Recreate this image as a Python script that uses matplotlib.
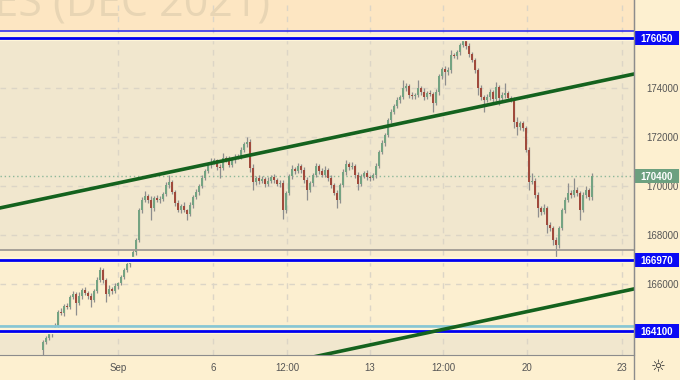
import numpy as np
import matplotlib
matplotlib.use("Agg")
import matplotlib.pyplot as plt
from matplotlib.patches import Rectangle
from matplotlib.lines import Line2D
from matplotlib.transforms import blended_transform_factory

# ---------------- data ----------------
first_open = 163300
closes = [
    163640, 163800, 163960, 164170, 164290, 164860, 164800, 165110, 165060, 165470,
    165600, 165230, 165510, 165760, 165640, 165510, 165350, 165720, 166170, 166570,
    166170, 165600, 165800, 165720, 165920, 166040, 166290, 166570, 166820, 167060,
    167310, 167800, 169020, 169430, 169590, 169430, 169100, 169510, 169430, 169470,
    169680, 170040, 170160, 169760, 169310, 169020, 169190, 169020, 168860, 169230,
    169550, 169760, 170000, 170330, 170610, 170860, 170980, 171060, 170780, 170740,
    171140, 171100, 170860, 171060, 171190, 171230, 171470, 171720, 171800, 170740,
    170160, 170330, 170210, 170290, 170080, 170210, 170370, 170250, 170080, 170120,
    169020, 169720, 170410, 170700, 170610, 170820, 170650, 170250, 169840, 170120,
    170450, 170820, 170610, 170450, 170650, 170330, 170040, 169720, 169430, 170040,
    170570, 170900, 170780, 170820, 170450, 170080, 170410, 170530, 170370, 170330,
    170450, 170820, 171390, 171760, 172080, 172690, 173020, 173270, 173510, 173630,
    174000, 174080, 173710, 173670, 173710, 174000, 173840, 173630, 173800, 173760,
    173390, 173840, 174490, 174780, 174650, 174730, 175350, 175300, 175470, 175750,
    175960, 175710, 175390, 175140, 174730, 174000, 173630, 173510, 173630, 173840,
    173550, 174040, 173590, 173710, 173800, 173590, 173510, 172610, 172410, 172570,
    172370, 171470, 170160, 170210, 169630, 169100, 168940, 169100, 168410, 168290,
    167800, 167590, 168290, 169020, 169430, 169720, 169630, 169840, 169720, 169020,
    169630, 169840, 169550, 170400,
]
wick_up = [
    60, 80, 100, 60, 120, 80, 140, 60, 120, 100,
    130, 80, 150, 90, 110, 70, 130, 90, 100, 120,
    80, 90, 140, 70, 110, 60, 90, 80, 120, 60,
    80, 70, 100, 120, 200, 90, 150, 80, 110, 140,
    90, 130, 290, 100, 80, 120, 90, 140, 60, 110,
    80, 130, 70, 120, 100, 80, 150, 90, 60, 110,
    210, 90, 120, 80, 110, 60, 130, 90, 200, 120,
    150, 80, 120, 100, 90, 140, 80, 110, 70, 130,
    120, 90, 100, 160, 80, 120, 90, 140, 110, 80,
    100, 130, 70, 120, 160, 90, 110, 80, 100, 90,
    120, 150, 80, 140, 90, 110, 100, 80, 130, 90,
    70, 100, 60, 110, 90, 80, 130, 70, 110, 90,
    330, 120, 90, 130, 80, 330, 100, 140, 90, 110,
    80, 120, 90, 80, 130, 110, 200, 90, 80, 100,
    90, 80, 120, 90, 100, 80, 110, 90, 130, 100,
    90, 200, 80, 120, 400, 90, 100, 120, 210, 100,
    90, 80, 110, 320, 100, 130, 90, 150, 80, 110,
    90, 130, 80, 100, 120, 400, 110, 490, 100, 90,
    120, 140, 90, 130,
]
wick_dn = [
    300, 70, 90, 110, 60, 100, 80, 120, 70, 90,
    100, 490, 80, 120, 90, 110, 290, 70, 100, 80,
    120, 330, 90, 110, 70, 130, 80, 100, 90, 110,
    70, 120, 90, 110, 80, 130, 490, 100, 90, 120,
    80, 100, 110, 90, 130, 80, 120, 100, 250, 90,
    110, 80, 120, 90, 100, 70, 130, 90, 110, 410,
    80, 120, 100, 90, 140, 80, 110, 90, 120, 150,
    320, 100, 140, 90, 120, 100, 80, 130, 90, 110,
    370, 120, 90, 110, 130, 80, 100, 120, 410, 90,
    110, 80, 130, 100, 90, 120, 110, 100, 330, 120,
    90, 110, 130, 80, 120, 240, 100, 90, 110, 130,
    90, 120, 100, 80, 110, 90, 130, 80, 100, 120,
    90, 110, 130, 100, 120, 80, 110, 130, 90, 100,
    370, 90, 110, 120, 530, 100, 120, 90, 130, 110,
    80, 100, 120, 90, 110, 300, 130, 490, 100, 120,
    110, 90, 280, 100, 120, 130, 90, 240, 330, 110,
    120, 100, 320, 90, 110, 360, 130, 100, 330, 120,
    200, 490, 110, 90, 130, 100, 120, 90, 110, 410,
    100, 120, 130, 110,
]

time_tick_pos = [25, 56.7, 81.3, 109, 133.3, 161.3, 193]
time_tick_labels = ["Sep", "6", "12:00", "13", "12:00", "20", "23"]
price_ticks = [166000, 168000, 170000, 172000, 174000]
blue_levels = [176050, 166970, 164100]
upper_zone_edge = 176320
grey_level = 167390
cyan_level = 164290
last_price = 170400
upper_trend_x = [-15, 198]
upper_trend_y = [169087, 174597]
lower_trend_x = [80, 198]
lower_trend_y = [162760, 165825]
title_text = "FUTURES (DEC 2021)"

# ---------------- figure ----------------
W, H = 680, 380
fig = plt.figure(figsize=(W / 100, H / 100), dpi=100)
fig.patch.set_facecolor("#fdf0d0")
plot_w, plot_h = 634, 355
ax = fig.add_axes([0, (H - plot_h) / H, plot_w / W, plot_h / H])
ax.set_facecolor("#f1e7ce")

ymin, ymax = 163102, 177592
xmin, xmax = -14.33, 197
ax.set_xlim(xmin, xmax)
ax.set_ylim(ymin, ymax)

# background bands
ax.axhspan(upper_zone_edge, ymax, color="#fde6c2", zorder=0, lw=0)
ax.axhspan(blue_levels[0], upper_zone_edge, color="#fcefd6", zorder=0, lw=0)
ax.axhspan(cyan_level, grey_level, color="#fcefd0", zorder=0, lw=0)

# grid
grid_c = "#dcd5c6"
for t in time_tick_pos:
    ax.axvline(t, color=grid_c, lw=1, ls=(0, (4, 4)), zorder=0.5)
for p in price_ticks:
    ax.axhline(p, color=grid_c, lw=1, ls=(0, (4, 4)), zorder=0.5)

# watermark (partly cut off at the top-left, as in the reference)
ax.text(270 / plot_w, 1 - 16 / plot_h, title_text, transform=ax.transAxes,
        ha="right", va="baseline", fontsize=31, color="#e8d5b4",
        family=["Open Sans", "DejaVu Sans"], clip_on=True, zorder=0.6)

# candles
c = np.array(closes, dtype=float)
o = np.concatenate([[first_open], c[:-1]])
hi = np.maximum(o, c) + np.array(wick_up)
lo = np.minimum(o, c) - np.array(wick_dn)
x = np.arange(len(c))
bull = c >= o
ax.vlines(x, lo, hi, color="#8e8e8e", lw=0.9, zorder=3)
body_h = np.maximum(np.abs(c - o), 40)
ax.bar(x[bull], body_h[bull], bottom=np.minimum(o, c)[bull], width=0.62,
       color="#74a382", zorder=4, lw=0)
ax.bar(x[~bull], body_h[~bull], bottom=np.minimum(o, c)[~bull], width=0.62,
       color="#a04a3c", zorder=4, lw=0)

# level lines
ax.axhline(upper_zone_edge, color="#2020f0", lw=1.1, zorder=5)
ax.axhline(grey_level, color="#a09a94", lw=1.3, zorder=5)
ax.axhline(cyan_level, color="#86c6d4", lw=2.0, zorder=5)
for lv in blue_levels:
    ax.axhline(lv, color="#fff6d8", lw=4.5, zorder=5)
    ax.axhline(lv, color="#0000f0", lw=2.0, zorder=6)

# last price dotted line
ax.axhline(last_price, color="#8db89a", lw=1.0, ls=(0, (1, 2)), zorder=2)

# trend lines
ax.plot(upper_trend_x, upper_trend_y, color="#14621e", lw=2.6, zorder=7,
        solid_capstyle="butt")
ax.plot(lower_trend_x, lower_trend_y, color="#14621e", lw=2.6, zorder=7,
        solid_capstyle="butt")

# axes styling
for s in ["top", "left"]:
    ax.spines[s].set_visible(False)
ax.spines["right"].set_color("#8c8c8c")
ax.spines["bottom"].set_color("#8c8c8c")
ax.yaxis.tick_right()
ax.set_yticks(price_ticks)
ax.set_yticklabels([str(p) for p in price_ticks])
ax.tick_params(axis="y", length=0, pad=9, labelsize=7, labelcolor="#555555")
ax.set_xticks(time_tick_pos)
ax.set_xticklabels(time_tick_labels)
ax.tick_params(axis="x", length=0, pad=6, labelsize=7, labelcolor="#555555")
for lab in ax.get_xticklabels() + ax.get_yticklabels():
    lab.set_family(["Liberation Sans", "DejaVu Sans"])

# price label boxes on axis
trans = blended_transform_factory(ax.transAxes, ax.transData)
units_per_px = (ymax - ymin) / plot_h
box_w = 44 / plot_w
box_h = 14 * units_per_px
for lv, fc in [(blue_levels[0], "#0a0af5"), (blue_levels[1], "#0a0af5"),
               (blue_levels[2], "#0a0af5"), (last_price, "#6ca07f")]:
    ax.add_patch(Rectangle((1.0 + 1 / plot_w, lv - box_h / 2), box_w, box_h,
                           transform=trans, facecolor=fc, edgecolor="none",
                           clip_on=False, zorder=10))
    ax.text(1.0 + 23 / plot_w, lv, str(lv), transform=trans, ha="center",
            va="center_baseline", color="white", fontsize=7, fontweight="bold",
            family=["Liberation Sans", "DejaVu Sans"], clip_on=False, zorder=11)

# separator extending through bottom axis area
fig.add_artist(Line2D([plot_w / W, plot_w / W], [0, 1], color="#8c8c8c", lw=1))

# settings icon
fig.text(658 / W, 1 - 367 / H, "\u263C", ha="center", va="center", fontsize=12,
         color="#333333", family="DejaVu Sans")

fig.savefig("out.png", dpi=100, facecolor=fig.get_facecolor())
